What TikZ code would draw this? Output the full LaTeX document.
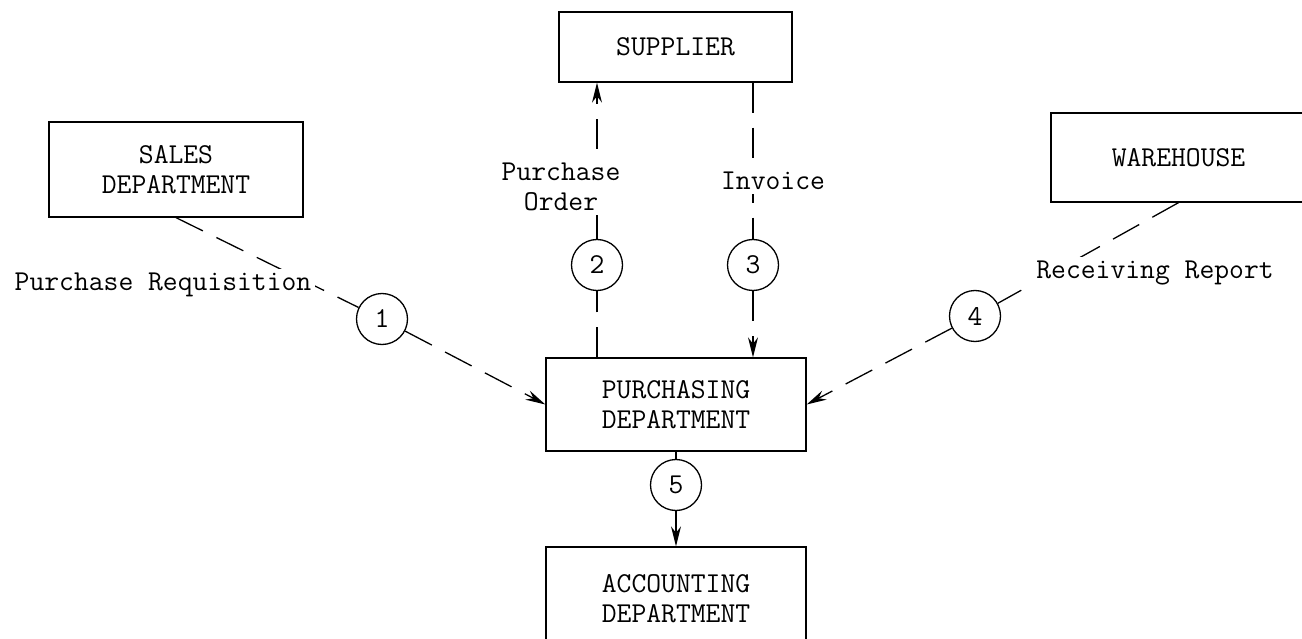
\documentclass[tikz,border=0pt]{standalone}
\usepackage{fontspec}
\usetikzlibrary{arrows.meta}
\newcommand\tw{\ttfamily\fontsize{28.8}{30}\selectfont}
\begin{document}
\begin{tikzpicture}[x=1pt,y=-1pt,
  box/.style={draw, line width=1.3pt, align=center, font=\tw, inner sep=0pt},
  circ/.style={draw, circle, line width=1.3pt, minimum size=51pt, inner sep=0pt, font=\tw},
  flow/.style={line width=1.3pt, dash pattern=on 30pt off 15pt},
  solidflow/.style={line width=1.3pt},
  tip/.style={-{Stealth[length=20pt,width=10pt]}},
  lbl/.style={fill=white, font=\tw, align=center, inner sep=4pt}]
\useasboundingbox (0,0) rectangle (1302,639);
% boxes
\node[box, minimum width=233pt, minimum height=70pt] (sup) at (675.5,47) {SUPPLIER};
\node[box, minimum width=254pt, minimum height=95pt] (sales) at (176,169.5) {SALES\\DEPARTMENT};
\node[box, minimum width=255pt, minimum height=89pt] (wh) at (1178.5,157.5) {WAREHOUSE};
\node[box, minimum width=260pt, minimum height=93pt] (purch) at (676,404.5) {PURCHASING\\DEPARTMENT};
\node[box, minimum width=260pt, minimum height=103pt] (acc) at (676,598.5) {ACCOUNTING\\DEPARTMENT};
% circles
\node[circ] (c1) at (382,319) {1};
\node[circ] (c2) at (597,265) {2};
\node[circ] (c3) at (753,265) {3};
\node[circ] (c4) at (975,316) {4};
\node[circ] (c5) at (676,485) {5};
% connectors
\draw[flow] (sales.south) -- (c1);
\draw[flow, tip] (c1) -- (purch.west);
\draw[flow] (purch.north -| c2) -- (c2);
\draw[flow, tip] (c2) -- (c2 |- sup.south);
\draw[flow] (sup.south -| c3) -- (c3);
\draw[flow, tip] (c3) -- (c3 |- purch.north);
\draw[flow] (wh.south) -- (c4);
\draw[flow, tip] (c4) -- (purch.east);
\draw[solidflow] (purch.south) -- (c5);
\draw[solidflow, tip] (c5) -- (acc.north);
% labels
\node[lbl] (reqlbl) at (163,285) {Purchase Requisition};
\node[lbl] (polbl) at (561,187) {Purchase\\Order};
\node[lbl] (invlbl) at (773,181) {Invoice};
\node[lbl] (reclbl) at (1155,273) {Receiving Report};
\end{tikzpicture}
\end{document}
